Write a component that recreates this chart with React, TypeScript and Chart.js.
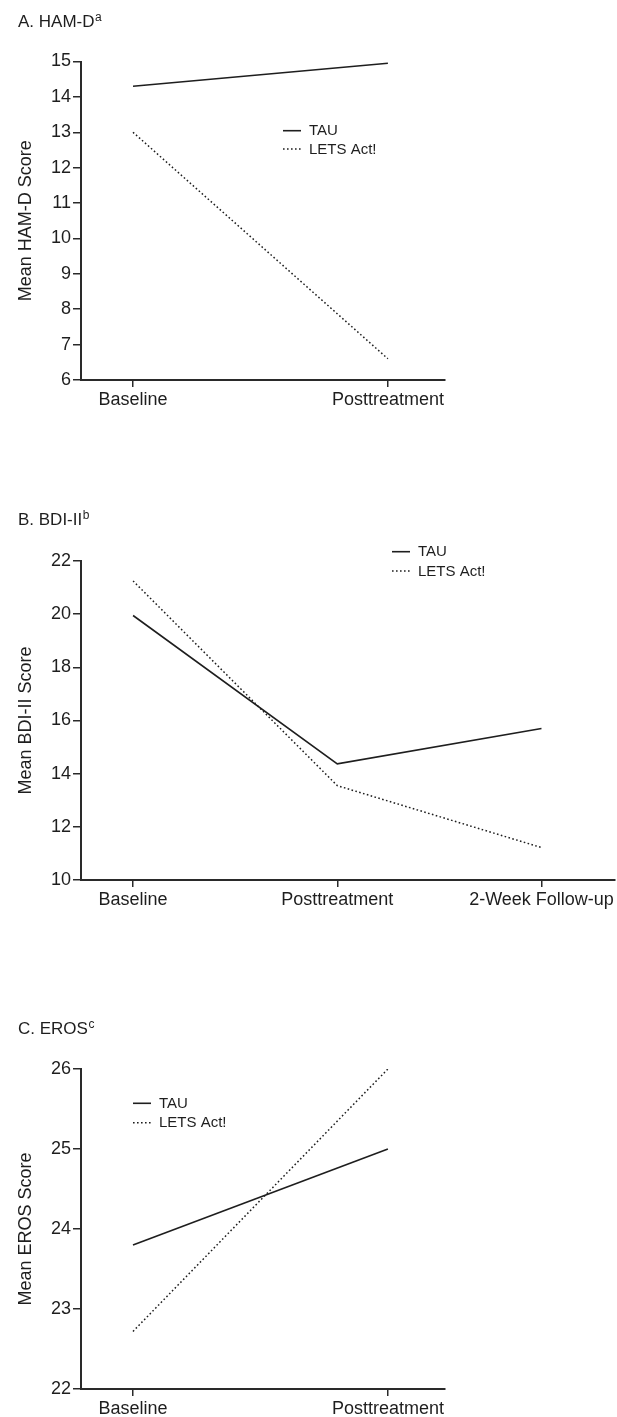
import React, { useEffect, useRef } from "react";
import { Chart, registerables } from "chart.js";

Chart.register(...registerables);

const FONT = "'Liberation Sans', Arial, Helvetica, sans-serif";
const INK = "#1e1e1e";
const AXIS = "#2a2a2a";

// ---- Data ----
const seriesLabels = ["TAU", "LETS Act!"];

const hamdCategories = ["Baseline", "Posttreatment"];
const hamdTau = [14.3, 14.95];
const hamdLets = [13.0, 6.6];
const hamdTicks = [6, 7, 8, 9, 10, 11, 12, 13, 14, 15];

const bdiCategories = ["Baseline", "Posttreatment", "2-Week Follow-up"];
const bdiTau = [19.95, 14.37, 15.7];
const bdiLets = [21.25, 13.55, 11.22];
const bdiTicks = [10, 12, 14, 16, 18, 20, 22];

const erosCategories = ["Baseline", "Posttreatment"];
const erosTau = [23.8, 25.0];
const erosLets = [22.72, 26.0];
const erosTicks = [22, 23, 24, 25, 26];

type PanelProps = {
  top: number;
  height: number;
  title: string;
  sup: string;
  titleY: number;
  yTitle: string;
  categories: string[];
  tau: number[];
  lets: number[];
  yTicks: number[];
  xMin: number;
  xMax: number;
  padTop: number;
  padRight: number;
  xAxisH: number;
  legendX: number;
  legendY: number;
  legendRow: number;
};

const decorPlugin = {
  id: "decor",
  afterDraw(chart: any, _args: any, opts: any) {
    const ctx = chart.ctx as CanvasRenderingContext2D;
    ctx.save();
    ctx.fillStyle = INK;
    ctx.textBaseline = "middle";
    ctx.textAlign = "left";
    ctx.font = `17px ${FONT}`;
    ctx.fillText(opts.title, opts.titleX, opts.titleY);
    const w = ctx.measureText(opts.title).width;
    ctx.font = `12px ${FONT}`;
    ctx.fillText(opts.sup, opts.titleX + w + 0.5, opts.titleY - 4);
    chart.data.datasets.forEach((ds: any, i: number) => {
      const y = opts.legendY + i * opts.legendRow;
      ctx.beginPath();
      ctx.setLineDash(ds.borderDash || []);
      ctx.lineWidth = ds.borderWidth;
      ctx.strokeStyle = ds.borderColor;
      ctx.moveTo(opts.legendX, y);
      ctx.lineTo(opts.legendX + opts.legendLen, y);
      ctx.stroke();
      ctx.setLineDash([]);
      ctx.font = `15px ${FONT}`;
      ctx.fillStyle = INK;
      ctx.fillText(ds.label, opts.legendX + opts.legendLen + opts.legendGap, y + 0.5);
    });
    ctx.restore();
  },
};

function Panel(p: PanelProps) {
  const ref = useRef<HTMLCanvasElement | null>(null);
  useEffect(() => {
    if (!ref.current) return;
    const toPts = (vals: number[]) => vals.map((v, i) => ({ x: i, y: v }));
    const chart = new Chart(ref.current, {
      type: "line",
      data: {
        datasets: [
          {
            label: seriesLabels[0],
            data: toPts(p.tau),
            borderColor: INK,
            borderWidth: 1.6,
            pointRadius: 0,
            tension: 0,
            fill: false,
          },
          {
            label: seriesLabels[1],
            data: toPts(p.lets),
            borderColor: INK,
            borderWidth: 1.5,
            borderDash: [1.6, 2.4],
            pointRadius: 0,
            tension: 0,
            fill: false,
          },
        ],
      },
      plugins: [decorPlugin],
      options: {
        responsive: false,
        animation: false,
        devicePixelRatio: 1,
        layout: { padding: { top: p.padTop, right: p.padRight, left: 0, bottom: 0 } },
        plugins: {
          legend: { display: false },
          tooltip: { enabled: false },
          decor: {
            title: p.title,
            sup: p.sup,
            titleX: 18,
            titleY: p.titleY,
            legendX: p.legendX,
            legendY: p.legendY,
            legendRow: p.legendRow,
            legendLen: 18,
            legendGap: 8,
          },
        } as any,
        scales: {
          x: {
            type: "linear",
            min: p.xMin,
            max: p.xMax,
            afterBuildTicks: (s: any) => {
              s.ticks = p.categories.map((_, i) => ({ value: i }));
            },
            afterFit: (s: any) => {
              s.height = p.xAxisH;
            },
            grid: {
              drawOnChartArea: false,
              drawTicks: true,
              tickLength: 7,
              color: AXIS,
              lineWidth: 1.5,
            },
            border: { display: true, color: AXIS, width: 2 },
            ticks: {
              callback: (v: any) => p.categories[v] ?? "",
              font: { family: FONT, size: 18 },
              color: INK,
              padding: 2,
              maxRotation: 0,
              autoSkip: false,
            },
          },
          y: {
            type: "linear",
            min: p.yTicks[0],
            max: p.yTicks[p.yTicks.length - 1],
            afterBuildTicks: (s: any) => {
              s.ticks = p.yTicks.map((v) => ({ value: v }));
            },
            afterFit: (s: any) => {
              s.width = 81;
            },
            grid: {
              drawOnChartArea: false,
              drawTicks: true,
              tickLength: 8,
              color: AXIS,
              lineWidth: 1.5,
            },
            border: { display: true, color: AXIS, width: 2 },
            ticks: {
              font: { family: FONT, size: 18 },
              color: INK,
              padding: 2,
            },
            title: {
              display: true,
              text: p.yTitle,
              font: { family: FONT, size: 18 },
              color: INK,
              padding: { top: 15, bottom: 0 },
            },
          },
        },
      } as any,
    });
    return () => chart.destroy();
  }, []);
  return (
    <div style={{ position: "absolute", left: 0, top: p.top, width: 617, height: p.height }}>
      <canvas ref={ref} width={617} height={p.height} style={{ display: "block" }} />
    </div>
  );
}

export default function App() {
  return (
    <div style={{ position: "absolute", left: 0, top: 0, width: 617, height: 1417, background: "#fff" }}>
      <Panel
        top={0}
        height={470}
        title="A. HAM-D"
        sup="a"
        titleY={22}
        yTitle="Mean HAM-D Score"
        categories={hamdCategories}
        tau={hamdTau}
        lets={hamdLets}
        yTicks={hamdTicks}
        xMin={-0.204}
        xMax={1.224}
        padTop={61.5}
        padRight={172}
        xAxisH={90}
        legendX={283}
        legendY={130.7}
        legendRow={18.3}
      />
      <Panel
        top={480}
        height={450}
        title="B. BDI-II"
        sup="b"
        titleY={40}
        yTitle="Mean BDI-II Score"
        categories={bdiCategories}
        tau={bdiTau}
        lets={bdiLets}
        yTicks={bdiTicks}
        xMin={-0.255}
        xMax={2.36}
        padTop={81}
        padRight={2}
        xAxisH={50}
        legendX={392}
        legendY={71.7}
        legendRow={19.3}
      />
      <Panel
        top={990}
        height={427}
        title="C. EROS"
        sup="c"
        titleY={39}
        yTitle="Mean EROS Score"
        categories={erosCategories}
        tau={erosTau}
        lets={erosLets}
        yTicks={erosTicks}
        xMin={-0.204}
        xMax={1.224}
        padTop={79}
        padRight={172}
        xAxisH={28}
        legendX={133}
        legendY={113.3}
        legendRow={19.4}
      />
    </div>
  );
}
